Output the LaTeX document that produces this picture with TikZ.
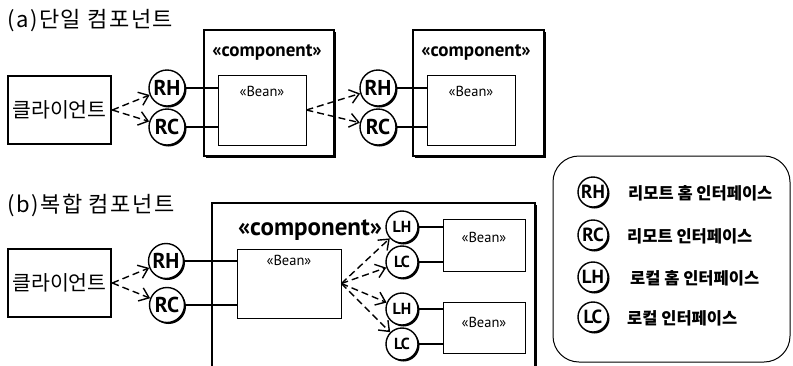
\documentclass[tikz,border=0pt]{standalone}
\usepackage{fontspec}
\newfontfamily\kr{Noto Sans CJK KR}
\newfontfamily\krwide[LetterSpace=7]{Noto Sans CJK KR}
\newfontfamily\pts{PT Sans}
\usetikzlibrary{shadows,arrows.meta}
\begin{document}
\begin{tikzpicture}[x=1pt,y=-1pt,
  title/.style={inner sep=0pt, anchor=west, font=\krwide\fontsize{22}{22}\selectfont},
  client/.style={draw, line width=2.6pt, fill=white, minimum width=103pt, minimum height=68pt,
    inner sep=0pt, font=\kr\fontsize{20.5}{20.5}\selectfont},
  comp/.style={draw, line width=1.6pt, fill=white, inner sep=0pt,
    drop shadow={shadow xshift=2pt, shadow yshift=-2pt, fill=black, opacity=1}},
  compname/.style={inner sep=0pt, font=\pts\bfseries\fontsize{19}{19}\selectfont},
  bigcompname/.style={inner sep=0pt, font=\pts\bfseries\fontsize{25}{25}\selectfont},
  bean/.style={draw, line width=0.8pt, fill=white, inner sep=0pt},
  beanname/.style={inner sep=0pt, font=\pts\fontsize{14.5}{14.5}\selectfont},
  iface/.style={circle, draw, line width=1.4pt, fill=white, inner sep=0pt, minimum size=#1,
    drop shadow={shadow xshift=1.5pt, shadow yshift=-1.5pt, fill=black, opacity=1}},
  iface/.default=36pt,
  ifbig/.style={font=\pts\bfseries\fontsize{21.5}{21.5}\selectfont},
  ifsmall/.style={font=\pts\bfseries\fontsize{16}{16}\selectfont},
  iflegend/.style={font=\pts\bfseries\fontsize{19}{19}\selectfont},
  legtext/.style={inner sep=0pt, anchor=west, font=\kr\bfseries\fontsize{16.5}{16.5}\selectfont},
  wire/.style={line width=1.4pt},
  dep/.style={line width=1.4pt, dash pattern=on 7pt off 4pt,
    -{Straight Barb[length=9pt,width=14pt]}},
]
\useasboundingbox (0,0) rectangle (793,365);

% section titles
\node[title] (ta) at (7,21) {(a)단일 컴포넌트};
\node[title] (tb) at (7,205) {(b)복합 컴포넌트};

% ---------- (a) single components ----------
\node[client] (cla) at (59.5,110) {클라이언트};

\node[comp, minimum width=130pt, minimum height=126pt] (ca1) at (269,93) {};
\node[compname] (ca1n) at (267,52) {«component»};
\node[bean, minimum width=88pt, minimum height=70pt] (ba1) at (262,110) {};
\node[beanname] (ba1n) at (262,91) {«Bean»};

\node[comp, minimum width=131pt, minimum height=126pt] (ca2) at (478.5,93) {};
\node[compname] (ca2n) at (476,52) {«component»};
\node[bean, minimum width=88pt, minimum height=70pt] (ba2) at (471,110) {};
\node[beanname] (ba2n) at (471,91) {«Bean»};

\node[iface, ifbig] (rha1) at (167,88) {RH};
\node[iface, ifbig] (rca1) at (167,127) {RC};
\node[iface, ifbig] (rha2) at (378,88) {RH};
\node[iface, ifbig] (rca2) at (378,127) {RC};

\draw[wire] (rha1.east) -- (rha1.east -| ba1.west);
\draw[wire] (rca1.east) -- (rca1.east -| ba1.west);
\draw[wire] (rha2.east) -- (rha2.east -| ba2.west);
\draw[wire] (rca2.east) -- (rca2.east -| ba2.west);

\draw[dep] (cla.east) -- (rha1);
\draw[dep] (cla.east) -- (rca1);
\draw[dep] (ba1.east) -- (rha2);
\draw[dep] (ba1.east) -- (rca2);

% ---------- (b) composite component ----------
\node[client] (clb) at (59.5,283) {클라이언트};

\begin{scope}
  \clip (0,0) rectangle (793,365);
  \node[comp, minimum width=323pt, minimum height=180pt] (cb) at (373.5,293) {};
\end{scope}
\node[bigcompname] (cbn) at (310,230) {«component»};

\node[bean, minimum width=104pt, minimum height=69pt] (bb) at (289,283.5) {};
\node[beanname] (bbn) at (289,260) {«Bean»};
\node[bean, minimum width=82pt, minimum height=52pt] (bb1) at (484,245) {};
\node[beanname] (bb1n) at (484,237) {«Bean»};
\node[bean, minimum width=82pt, minimum height=51pt] (bb2) at (484,327.5) {};
\node[beanname] (bb2n) at (484,322) {«Bean»};

\node[iface=35pt, ifbig] (rhb) at (166,261) {RH};
\node[iface=35pt, ifbig] (rcb) at (167,305) {RC};
\node[iface=32pt, ifsmall] (lh1) at (402,227) {LH};
\node[iface=32pt, ifsmall] (lc1) at (402,262) {LC};
\node[iface=32pt, ifsmall] (lh2) at (402,309) {LH};
\node[iface=32pt, ifsmall] (lc2) at (402,344) {LC};

\draw[wire] (rhb.east) -- (rhb.east -| bb.west);
\draw[wire] (rcb.east) -- (rcb.east -| bb.west);
\draw[wire] (lh1.east) -- (lh1.east -| bb1.west);
\draw[wire] (lc1.east) -- (lc1.east -| bb1.west);
\draw[wire] (lh2.east) -- (lh2.east -| bb2.west);
\draw[wire] (lc2.east) -- (lc2.east -| bb2.west);

\draw[dep] (clb.east) -- (rhb);
\draw[dep] (clb.east) -- (rcb);
\draw[dep] (bb.east) -- (lh1);
\draw[dep] (bb.east) -- (lc1);
\draw[dep] (bb.east) -- (lh2);
\draw[dep] (bb.east) -- (lc2);

% ---------- legend ----------
\node[draw, line width=1pt, rounded corners=26pt, minimum width=237pt, minimum height=206pt,
  inner sep=0pt] (leg) at (671.5,259) {};
\node[iface=30pt, iflegend] (lgrh) at (593,192) {RH};
\node[iface=30pt, iflegend] (lgrc) at (593,235) {RC};
\node[iface=30pt, iflegend] (lglh) at (593,277) {LH};
\node[iface=30pt, iflegend] (lglc) at (593,317) {LC};
\node[legtext] (lgrht) at (628,193) {리모트 홈 인터페이스};
\node[legtext] (lgrct) at (627,236) {리모트 인터페이스};
\node[legtext] (lglht) at (630,278) {로컬 홈 인터페이스};
\node[legtext] (lglct) at (627,318) {로컬 인터페이스};
\end{tikzpicture}
\end{document}
